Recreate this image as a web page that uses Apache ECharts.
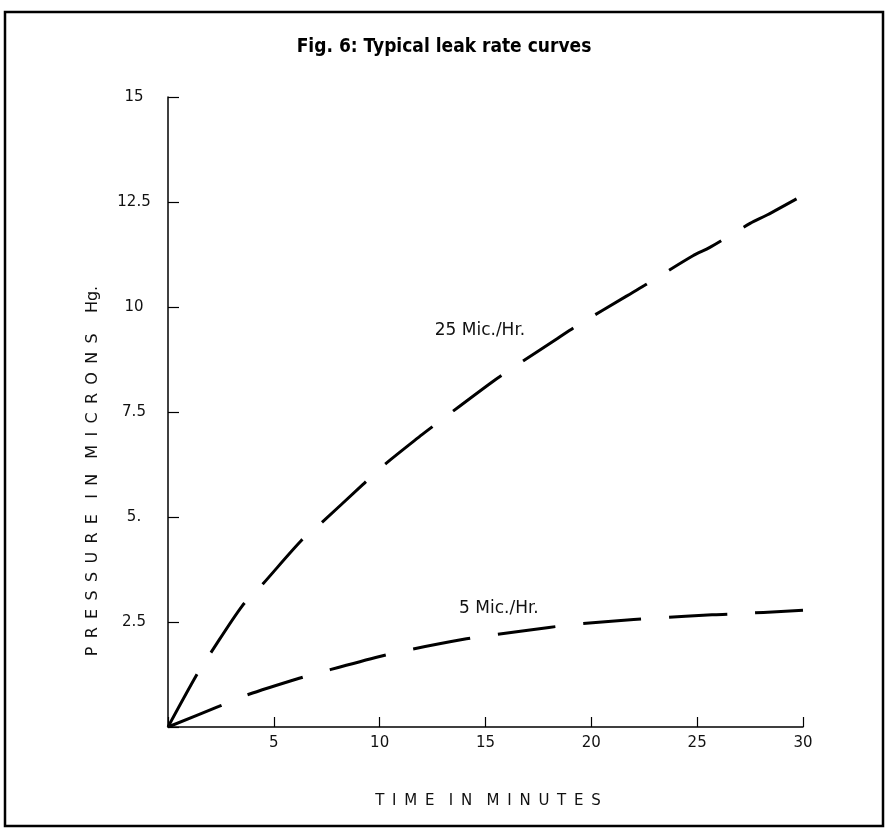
<!DOCTYPE html>
<html>
<head>
<meta charset="UTF-8">
<title>Fig. 6: Typical leak rate curves</title>
<script src="https://cdn.jsdelivr.net/npm/echarts@6/dist/echarts.min.js"></script>
<style>
  html, body { margin: 0; padding: 0; background: #fff; }
  #chart { width: 888px; height: 835px; }
</style>
</head>
<body>
<div id="chart"></div>
<script>
// values (minutes, microns Hg)
var time25 = [0, 1.4, 2, 3.5, 4.4, 6.3, 7.2, 9.2, 10, 12, 12.7, 15.3, 16.2, 18.4, 19.3, 21.7, 22.5, 24.8, 25.6, 27.5, 28.3, 30];
var pres25 = [0, 1.28, 1.75, 2.88, 3.36, 4.44, 4.84, 5.77, 6.15, 6.96, 7.23, 8.21, 8.52, 9.25, 9.55, 10.27, 10.51, 11.22, 11.42, 11.99, 12.19, 12.66];
var time5 = [0, 2.4, 3.6, 6.2, 7.4, 10, 11.3, 14.1, 15.3, 18, 19.3, 22, 23.2, 25.7, 26.7, 30];
var pres5 = [0, 0.49, 0.74, 1.16, 1.33, 1.68, 1.83, 2.1, 2.19, 2.37, 2.45, 2.56, 2.6, 2.67, 2.69, 2.78];
var yTickLabels = ['', '2.5', '5.', '7.5', '10', '12.5', '15'];
var xTickLabels = ['', '5', '10', '15', '20', '25', '30'];

function pairs(xs, ys) {
  var out = [];
  for (var i = 0; i < xs.length; i++) out.push([xs[i], ys[i]]);
  return out;
}
// spread letters out like the hand lettering
function spaced(s, sep) {
  return s.split(' ').map(function (w) { return w.split('').join(sep); }).join('   ');
}

var font = 'DejaVu Sans';
var myChart = echarts.init(document.getElementById('chart'));

var option = {
  backgroundColor: '#fff',
  animation: false,
  title: {
    text: 'Fig. 6: Typical leak rate curves',
    left: 'center',
    top: 33,
    textStyle: {
      fontFamily: '"Liberation Sans Narrow", "DejaVu Sans Condensed", sans-serif',
      fontWeight: 'bold',
      fontSize: 19,
      color: '#000'
    }
  },
  grid: { left: 168, right: 85, top: 97, bottom: 108 },
  xAxis: {
    type: 'value',
    min: 0, max: 30, interval: 5,
    splitLine: { show: false },
    axisLine: { lineStyle: { color: '#000', width: 1.5 } },
    axisTick: { inside: true, length: 10, lineStyle: { color: '#000', width: 1.2 } },
    axisLabel: {
      margin: 9,
      fontFamily: font, fontSize: 15, color: '#111',
      formatter: function (v) { return xTickLabels[Math.round(v / 5)]; }
    }
  },
  yAxis: {
    type: 'value',
    min: 0, max: 15, interval: 2.5,
    splitLine: { show: false },
    axisLine: { lineStyle: { color: '#000', width: 1.5 } },
    axisTick: { inside: true, length: 11, lineStyle: { color: '#000', width: 1.2 } },
    axisLabel: {
      margin: 34,
      align: 'center',
      fontFamily: font, fontSize: 15, color: '#111',
      formatter: function (v) { return yTickLabels[Math.round(v / 2.5)]; }
    }
  },
  series: [
    {
      name: '25 Mic./Hr.',
      type: 'line',
      smooth: 0.3,
      symbol: 'none',
      data: pairs(time25, pres25),
      lineStyle: { color: '#000', width: 3, type: [60, 26], cap: 'butt' },
      markPoint: {
        symbol: 'circle', symbolSize: 0,
        label: {
          show: true, position: 'right', distance: 0,
          fontFamily: font, fontSize: 17, color: '#111',
          formatter: '25 Mic./Hr.'
        },
        data: [{ coord: [12.6, 9.44] }]
      }
    },
    {
      name: '5 Mic./Hr.',
      type: 'line',
      smooth: 0.3,
      symbol: 'none',
      data: pairs(time5, pres5),
      lineStyle: { color: '#000', width: 3, type: [58, 28], cap: 'butt' },
      markPoint: {
        symbol: 'circle', symbolSize: 0,
        label: {
          show: true, position: 'right', distance: 0,
          fontFamily: font, fontSize: 17, color: '#111',
          formatter: '5 Mic./Hr.'
        },
        data: [{ coord: [13.75, 2.81] }]
      }
    }
  ],
  graphic: [
    {
      type: 'rect',
      shape: { x: 5, y: 12, width: 878, height: 814 },
      style: { fill: null, stroke: '#000', lineWidth: 2.5 },
      silent: true
    },
    {
      type: 'text',
      x: 93, y: 471,
      rotation: Math.PI / 2,
      style: {
        text: spaced('PRESSURE IN MICRONS', ' \u2009') + '    Hg.',
        fontFamily: font, fontSize: 16, fill: '#111',
        align: 'center', verticalAlign: 'middle'
      }
    },
    {
      type: 'text',
      x: 488, y: 801,
      style: {
        text: spaced('TIME IN MINUTES', ' \u2009'),
        fontFamily: font, fontSize: 15, fill: '#111',
        align: 'center', verticalAlign: 'middle'
      }
    }
  ]
};

myChart.setOption(option);
</script>
</body>
</html>
